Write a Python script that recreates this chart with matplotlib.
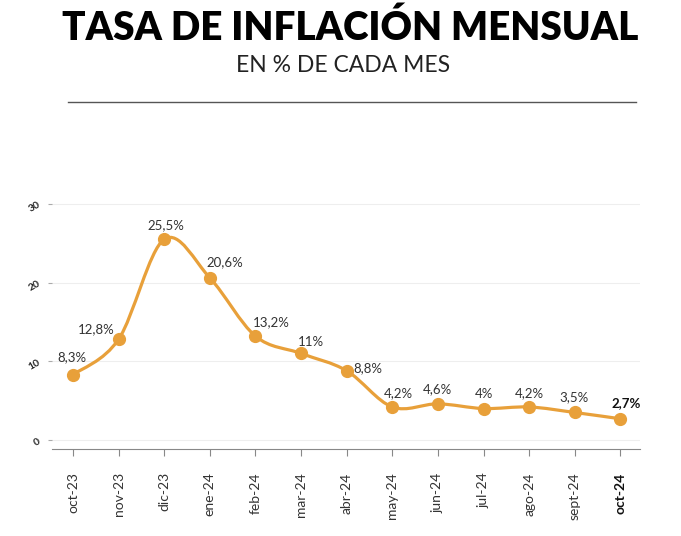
import numpy as np
import matplotlib
matplotlib.use("Agg")
from matplotlib import pyplot as plt
from matplotlib.path import Path
from matplotlib.patches import PathPatch

months = ["oct-23", "nov-23", "dic-23", "ene-24", "feb-24", "mar-24", "abr-24",
          "may-24", "jun-24", "jul-24", "ago-24", "sept-24", "oct-24"]
values = [8.3, 12.8, 25.5, 20.6, 13.2, 11.0, 8.8, 4.2, 4.6, 4.0, 4.2, 3.5, 2.7]
labels = ["8,3%", "12,8%", "25,5%", "20,6%", "13,2%", "11%", "8,8%",
          "4,2%", "4,6%", "4%", "4,2%", "3,5%", "2,7%"]
yticks = [0, 10, 20, 30]

# label offsets in pixels (dx, dy) relative to the point
offs = [(-1, 18), (-22, 10), (2, 14), (15, 16), (16, 14), (10, 11), (21, 3),
        (6, 14), (0, 15), (0, 15), (0, 14), (-1, 15), (6, 16)]

orange = "#E8A03A"
txt = "#333333"

plt.rcParams['font.family'] = ['Lato', 'DejaVu Sans']

fig = plt.figure(figsize=(6.81, 5.36), dpi=100)
fig.patch.set_facecolor("white")

fig.text(0.5 + 10 / 681, 1 - 28 / 536, "TASA DE INFLACIÓN MENSUAL", ha="center", va="center",
         fontsize=27.8, fontweight="heavy", color="black")
fig.text(0.5 + 3 / 681, 1 - 66 / 536, "EN % DE CADA MES", ha="center", va="center",
         fontsize=16.5, color="#222222")
fig.add_artist(plt.Line2D([68 / 681, 636 / 681], [1 - 102 / 536] * 2,
                          color="#555555", lw=1.0))

ax = fig.add_axes([52 / 681, 1 - 448.7 / 536, 588 / 681, (448.7 - 196) / 536])
x = np.arange(len(values))

# smooth curve through the points (cardinal spline as cubic bezier)
pts = np.column_stack([x, values])
verts = [tuple(pts[0])]
codes = [Path.MOVETO]
t = 0.5
for i in range(len(pts) - 1):
    p0 = pts[i - 1] if i > 0 else pts[i]
    p1 = pts[i]
    p2 = pts[i + 1]
    p3 = pts[i + 2] if i + 2 < len(pts) else pts[i + 1]
    c1 = p1 + (p2 - p0) * t / 3
    c2 = p2 - (p3 - p1) * t / 3
    verts += [tuple(c1), tuple(c2), tuple(p2)]
    codes += [Path.CURVE4] * 3
ax.add_patch(PathPatch(Path(verts, codes), fill=False, edgecolor=orange, lw=2.3,
                       capstyle="round", joinstyle="round"))
ax.plot(x, values, "o", color=orange, ms=8.5, zorder=3)

for i, (v, lab) in enumerate(zip(values, labels)):
    ax.annotate(lab, (i, v), xytext=(offs[i][0] * 0.72, offs[i][1] * 0.72),
                textcoords="offset points", ha="center", va="center",
                fontsize=9.5, color=txt if i < len(values) - 1 else "#111111",
                fontweight="bold" if i == len(values) - 1 else "normal")

ax.set_xlim(-0.46, 12.43)
ax.set_ylim(-1.1, 31)
ax.set_yticks(yticks)
ax.set_yticklabels([str(t) for t in yticks], rotation=30, fontsize=7.5,
                   fontweight="bold", color="#222222")
ax.set_xticks(x)
ax.set_xticklabels(months, rotation=90, fontsize=10, color=txt)
ax.get_xticklabels()[-1].set_fontweight("bold")
ax.get_xticklabels()[-1].set_color("#111111")
ax.tick_params(axis="x", length=5, color="#888888", pad=12)
ax.tick_params(axis="y", length=3, color="#aaaaaa", pad=4)
ax.grid(axis="y", color="#eeeeee", lw=0.8)
ax.set_axisbelow(True)
for s in ["top", "right", "left"]:
    ax.spines[s].set_visible(False)
ax.spines["bottom"].set_color("#888888")

fig.savefig("out.png", dpi=100)
